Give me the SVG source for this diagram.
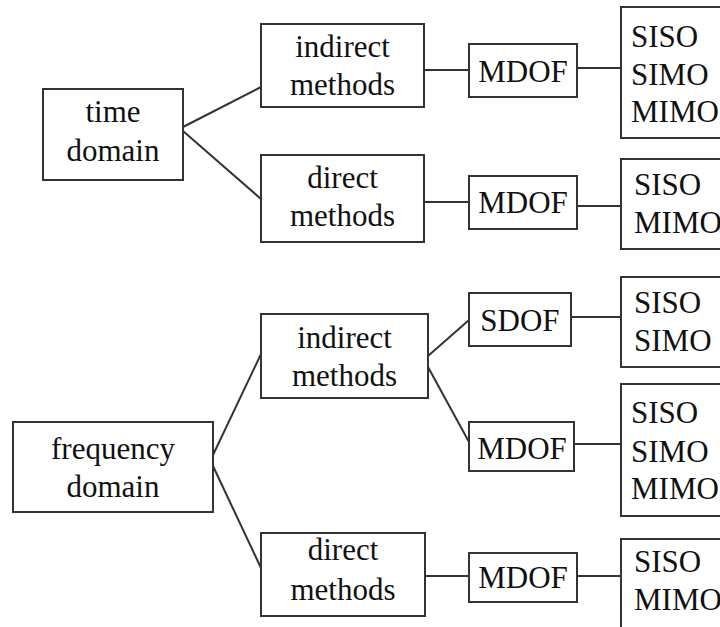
<svg xmlns="http://www.w3.org/2000/svg" width="720" height="627" viewBox="0 0 720 627">
<style>
rect{fill:#fff;stroke:#333;stroke-width:2}
line{stroke:#333;stroke-width:2}
text{font-family:"Liberation Serif","Times New Roman",serif;font-size:31px;fill:#111}
.c{text-anchor:middle}
</style>
<rect width="720" height="627" style="stroke:none"/>
<g id="connectors">
<line x1="183" y1="127" x2="261" y2="87"/>
<line x1="183" y1="131" x2="261" y2="199"/>
<line x1="424" y1="70" x2="469" y2="70"/>
<line x1="577" y1="68" x2="621" y2="68"/>
<line x1="424" y1="202" x2="469" y2="202"/>
<line x1="577" y1="206" x2="621" y2="206"/>
<line x1="213" y1="455" x2="261" y2="354"/>
<line x1="213" y1="466" x2="261" y2="568"/>
<line x1="428" y1="356" x2="469" y2="320"/>
<line x1="428" y1="367" x2="469" y2="442"/>
<line x1="571" y1="317" x2="621" y2="317"/>
<line x1="574" y1="444" x2="621" y2="444"/>
<line x1="425" y1="576" x2="469" y2="576"/>
<line x1="577" y1="576" x2="621" y2="576"/>
</g>
<g id="time-domain"><rect x="43" y="89" width="140" height="91"/><text class="c" x="113" y="122">time</text><text class="c" x="113" y="161">domain</text></g>
<g id="time-indirect"><rect x="261" y="24" width="163" height="83"/><text class="c" x="342.5" y="57">indirect</text><text class="c" x="342.5" y="95">methods</text></g>
<g id="time-direct"><rect x="261" y="155" width="163" height="87"/><text class="c" x="342.5" y="188">direct</text><text class="c" x="342.5" y="226">methods</text></g>
<g id="time-indirect-mdof"><rect x="469" y="44" width="108" height="53"/><text class="c" x="523" y="82">MDOF</text></g>
<g id="time-direct-mdof"><rect x="469" y="176" width="108" height="53"/><text class="c" x="523" y="213">MDOF</text></g>
<g id="time-indirect-io"><rect x="621" y="7" width="110" height="131"/><text x="631" y="47">SISO</text><text x="631" y="85">SIMO</text><text x="631" y="122">MIMO</text></g>
<g id="time-direct-io"><rect x="621" y="159" width="110" height="90"/><text x="634" y="195">SISO</text><text x="634" y="233">MIMO</text></g>
<g id="freq-domain"><rect x="13" y="422" width="200" height="90"/><text class="c" x="113" y="459">frequency</text><text class="c" x="113" y="497">domain</text></g>
<g id="freq-indirect"><rect x="261" y="314" width="167" height="84"/><text class="c" x="344.5" y="348">indirect</text><text class="c" x="344.5" y="386">methods</text></g>
<g id="freq-direct"><rect x="261" y="533" width="164" height="83"/><text class="c" x="343" y="560">direct</text><text class="c" x="343" y="600">methods</text></g>
<g id="freq-sdof"><rect x="469" y="293" width="102" height="53"/><text class="c" x="520" y="331">SDOF</text></g>
<g id="freq-indirect-mdof"><rect x="469" y="422" width="105" height="49"/><text class="c" x="522" y="459">MDOF</text></g>
<g id="freq-direct-mdof"><rect x="469" y="553" width="108" height="49"/><text class="c" x="523" y="588">MDOF</text></g>
<g id="freq-sdof-io"><rect x="621" y="277" width="110" height="90"/><text x="634" y="313">SISO</text><text x="634" y="351">SIMO</text></g>
<g id="freq-mdof-io"><rect x="621" y="384" width="110" height="132"/><text x="631" y="423">SISO</text><text x="631" y="462">SIMO</text><text x="631" y="499">MIMO</text></g>
<g id="freq-direct-io"><rect x="621" y="539" width="110" height="100"/><text x="634" y="572">SISO</text><text x="634" y="610">MIMO</text></g>
</svg>
